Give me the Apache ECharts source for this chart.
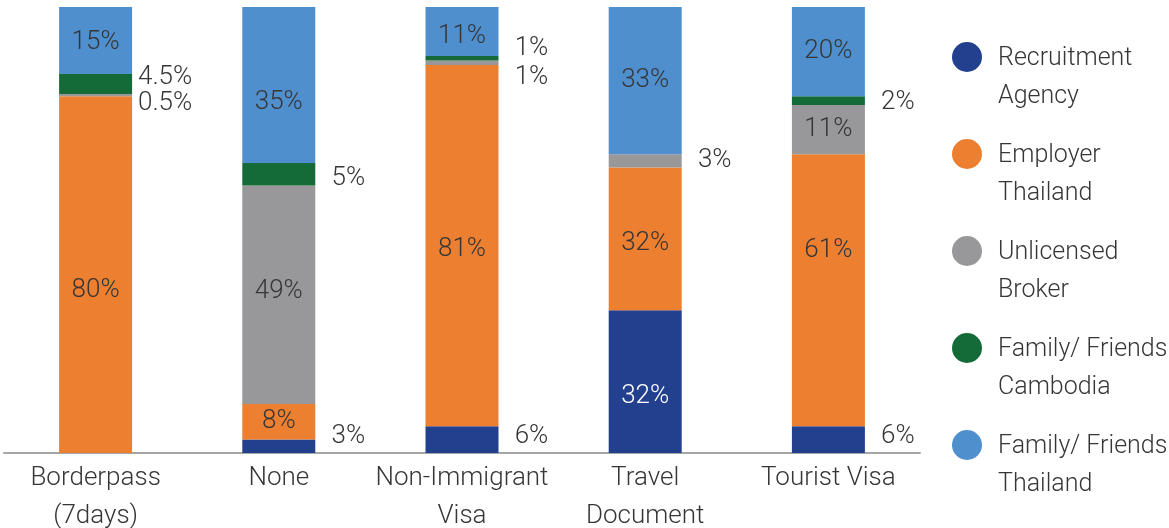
<!DOCTYPE html>
<html>
<head>
<meta charset="utf-8">
<script src="https://cdn.jsdelivr.net/npm/echarts@6/dist/echarts.min.js"></script>
<style>
  html, body { margin: 0; padding: 0; background: #ffffff; }
  #chart { width: 1169px; height: 528px; }
</style>
</head>
<body>
<div id="chart"></div>
<script>
// Document type used to enter Thailand
const categories = ['Borderpass\n(7days)', 'None', 'Non-Immigrant\nVisa', 'Travel\nDocument', 'Tourist Visa'];

// Who arranged the migration, percent share per document type (bottom to top)
const seriesNames = ['Recruitment\nAgency', 'Employer\nThailand', 'Unlicensed\nBroker', 'Family/ Friends\nCambodia', 'Family/ Friends\nThailand'];
const recruitmentAgency = [0, 3, 6, 32, 6];
const employerThailand = [80, 8, 81, 32, 61];
const unlicensedBroker = [0.5, 49, 1, 3, 11];
const familyCambodia = [4.5, 5, 1, 0, 2];
const familyThailand = [15, 35, 11, 33, 20];

const seriesValues = [recruitmentAgency, employerThailand, unlicensedBroker, familyCambodia, familyThailand];
const colors = ['#23408E', '#ED7F31', '#98989B', '#146B37', '#4F8FCD'];

const TEXT = '#363636';
const FONT = 'Roboto, "Liberation Sans", sans-serif';

// Thin segments get their label beside the bar; value = vertical nudge in px
const besideShift = {
  '2-0': 8, '3-0': -6,
  '0-1': -10, '3-1': 4,
  '0-2': -3, '2-2': 15, '3-2': -10,
  '2-3': 0,
  '0-4': -3, '3-4': 2
};
// Vertical nudge for labels drawn inside the segments
const insideShift = {
  '4-0': 2, '1-0': 16, '4-1': 17, '2-1': -3, '4-2': 5, '1-2': 4,
  '1-4': -40, '1-3': 5, '0-3': 15
};

function labelFor(s, i, v) {
  const key = s + '-' + i;
  if (!v) return { show: false };
  if (key in besideShift) {
    return {
      show: true, position: 'right', distance: 33, align: 'center',
      offset: [0, besideShift[key]], color: TEXT
    };
  }
  return {
    show: true, position: 'inside',
    offset: [0, insideShift[key] || 0],
    color: s === 0 ? '#ffffff' : TEXT
  };
}

const series = seriesValues.map((vals, s) => ({
  name: seriesNames[s],
  type: 'bar',
  stack: 'share',
  barWidth: 73,
  itemStyle: { color: colors[s] },
  label: {
    fontFamily: FONT, fontWeight: 300, fontSize: 26,
    formatter: p => p.value + '%'
  },
  emphasis: { disabled: true },
  data: vals.map((v, i) => ({ value: v, label: labelFor(s, i, v) }))
}));

const chart = echarts.init(document.getElementById('chart'), null, { renderer: 'canvas' });
chart.setOption({
  animation: false,
  backgroundColor: '#ffffff',
  grid: { left: 4, right: 249, top: 7, bottom: 75, containLabel: false, outerBoundsMode: 'none' },
  xAxis: {
    type: 'category',
    data: categories,
    axisLine: { lineStyle: { color: '#A6A6A6', width: 2 } },
    axisTick: { show: false },
    axisLabel: {
      color: TEXT, fontFamily: FONT, fontWeight: 300, fontSize: 26,
      lineHeight: 38, margin: 6, interval: 0
    }
  },
  yAxis: { type: 'value', min: 0, max: 100, show: false },
  legend: {
    orient: 'vertical',
    left: 952,
    top: 40,
    padding: 0,
    itemWidth: 41,
    itemHeight: 76,
    itemGap: 21,
    icon: 'path://M0,17A15,15,0,1,1,30,17A15,15,0,1,1,0,17ZM0,0M41,76',
    selectedMode: false,
    textStyle: { color: TEXT, fontFamily: FONT, fontWeight: 300, fontSize: 25, lineHeight: 38 }
  },
  series: series
});
</script>
</body>
</html>
